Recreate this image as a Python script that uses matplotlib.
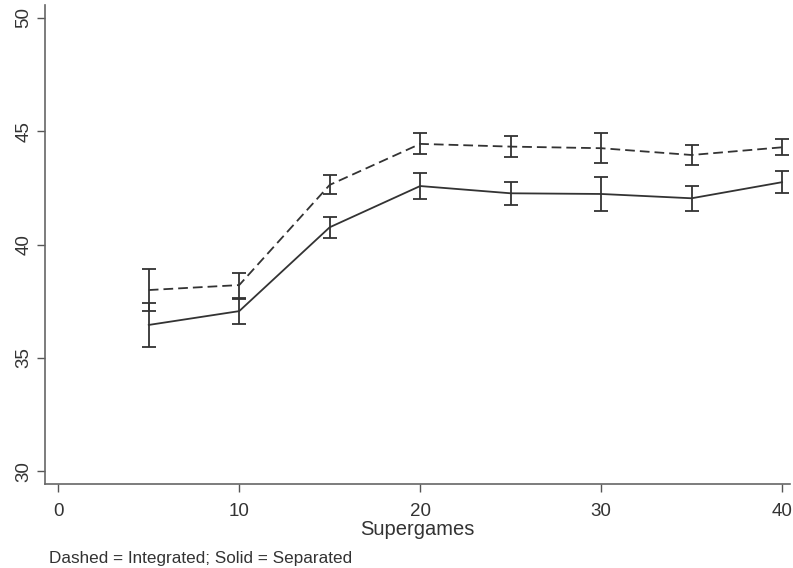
import matplotlib
matplotlib.use("Agg")
import matplotlib.pyplot as plt

plt.rcParams['font.family'] = ['Liberation Sans', 'DejaVu Sans']
plt.rcParams['lines.scale_dashes'] = False

supergames = [5, 10, 15, 20, 25, 30, 35, 40]
integrated = [37.99, 38.21, 42.63, 44.44, 44.32, 44.25, 43.95, 44.29]
integrated_err = [0.93, 0.55, 0.42, 0.46, 0.45, 0.66, 0.43, 0.35]
separated = [36.45, 37.06, 40.76, 42.58, 42.26, 42.23, 42.04, 42.75]
separated_err = [0.97, 0.55, 0.46, 0.57, 0.52, 0.75, 0.54, 0.49]

xticks = [0, 10, 20, 30, 40]
yticks = [30, 35, 40, 45, 50]

col = '#333333'
fig = plt.figure(figsize=(7.93, 5.68), dpi=100)
ax = fig.add_axes([45 / 793, 1 - 484 / 568, 745 / 793, 479 / 568])

ax.errorbar(supergames, integrated, yerr=integrated_err, color=col, lw=1.3,
            capsize=5, capthick=1.3, elinewidth=1.3, dashes=(7, 3.6))
ax.errorbar(supergames, separated, yerr=separated_err, color=col, lw=1.3,
            capsize=5, capthick=1.3, elinewidth=1.3)

ax.set_xlim(-0.735, 40.44)
ax.set_ylim(29.43, 50.57)
ax.set_xticks(xticks)
ax.set_yticks(yticks)
ax.set_yticklabels([str(v) for v in yticks], rotation=90, va='center')
for s in ['top', 'right']:
    ax.spines[s].set_visible(False)
for s in ['left', 'bottom']:
    ax.spines[s].set_color('#666666')
    ax.spines[s].set_linewidth(1.2)
ax.tick_params(axis='both', colors='#555555', labelcolor=col, labelsize=13.5,
               length=5.5, width=1)
ax.tick_params(axis='y', pad=3.5)
ax.tick_params(axis='x', pad=8)
ax.set_xlabel('Supergames', fontsize=14.5, color=col, labelpad=0)

fig.text(49 / 793, 1 - 563 / 568, 'Dashed = Integrated; Solid = Separated',
         fontsize=12.3, color=col, ha='left', va='baseline')

fig.savefig('out.png', dpi=100)
